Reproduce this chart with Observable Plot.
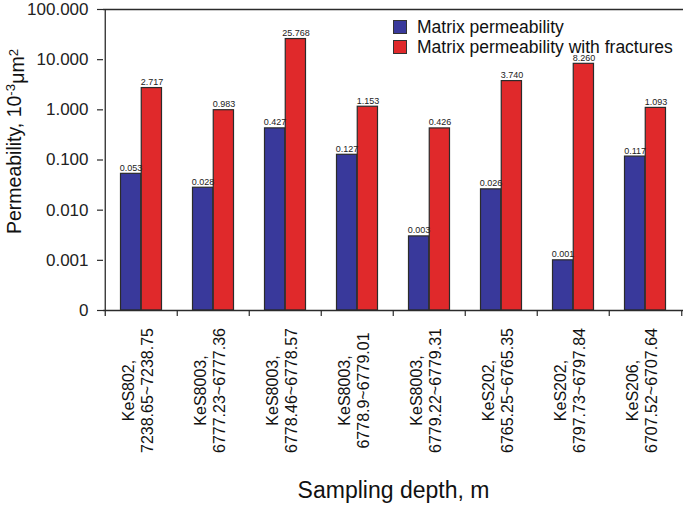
<!DOCTYPE html>
<html><head><meta charset="utf-8">
<script src="https://cdn.jsdelivr.net/npm/d3@7"></script>
<script src="https://cdn.jsdelivr.net/npm/@observablehq/plot@0.6"></script>
<style>
body{margin:0;background:#fff;font-family:"Liberation Sans",Arial,sans-serif;}
#wrap{position:relative;width:685px;height:506px;}
.legend{position:absolute;left:393px;top:17px;font-size:17.5px;color:#111;line-height:20px;}
.legend .row{display:flex;align-items:center;height:20px;}
.sw{width:12px;height:12px;border:1px solid #333;margin-right:10px;flex:none;}
</style></head><body><div id="wrap"></div>
<script>
const categories = [
  "KeS802,\n7238.65~7238.75",
  "KeS8003,\n6777.23~6777.36",
  "KeS8003,\n6778.46~6778.57",
  "KeS8003,\n6778.9~6779.01",
  "KeS8003,\n6779.22~6779.31",
  "KeS202,\n6765.25~6765.35",
  "KeS202,\n6797.73~6797.84",
  "KeS206,\n6707.52~6707.64"
];
const matrix = [0.053, 0.028, 0.427, 0.127, 0.003, 0.026, 0.001, 0.117];
const fractured = [2.717, 0.983, 25.768, 1.153, 0.426, 3.740, 8.260, 1.093];
const yTicks = [0.0001, 0.001, 0.01, 0.1, 1, 10, 100];
const yTickLabels = ["0", "0.001", "0.010", "0.100", "1.000", "10.000", "100.000"];
const seriesNames = ["Matrix permeability", "Matrix permeability with fractures"];
const seriesColors = ["#39399b", "#e0292b"];
const xTitle = "Sampling depth, m";
const yTitle = "Permeability, 10-3μm2";

const rows = categories.map((c, i) => ({cat: c, matrix: matrix[i], fractured: fractured[i]}));

const W = 685, H = 506, mL = 103, mR = 2, mT = 9, mB = 196;
const step = (W - mL - mR) / categories.length;
const half = step / 2;
const plotH = H - mT - mB;
const edge = "#2b2b2b";

const chart = Plot.plot({
  width: W, height: H,
  marginLeft: mL, marginRight: mR, marginTop: mT, marginBottom: mB,
  style: {fontFamily: "'Liberation Sans', Arial, sans-serif", color: "#222", background: "white", overflow: "visible"},
  x: {type: "band", domain: categories, padding: 0, axis: null},
  y: {type: "log", domain: [1e-4, 100]},
  marks: [
    Plot.barY(rows, {x: "cat", y1: 1e-4, y2: "matrix", fill: seriesColors[0], stroke: edge, strokeWidth: 1.2, insetLeft: 15.5, insetRight: half}),
    Plot.barY(rows, {x: "cat", y1: 1e-4, y2: "fractured", fill: seriesColors[1], stroke: edge, strokeWidth: 1.2, insetLeft: half, insetRight: 15.5}),
    Plot.text(rows, {x: "cat", y: "matrix", text: d => d.matrix.toFixed(3), dx: -10.4, dy: -3, lineAnchor: "bottom", fontSize: 9, fill: "#222"}),
    Plot.text(rows, {x: "cat", y: "fractured", text: d => d.fractured.toFixed(3), dx: 10.4, dy: -3, lineAnchor: "bottom", fontSize: 9, fill: "#222"}),
    Plot.ruleY([1e-4], {stroke: edge, strokeWidth: 1.3}),
    Plot.ruleY([100], {stroke: edge, strokeWidth: 1.3}),
    Plot.ruleX([categories[0]], {x: d => d, dx: -half, insetBottom: -6, stroke: edge, strokeWidth: 1.3}),
    Plot.ruleX(categories.slice(1), {x: d => d, dx: -half, insetTop: plotH, insetBottom: -6, stroke: edge, strokeWidth: 1.2}),
    Plot.ruleX([categories[categories.length - 1]], {x: d => d, dx: half, insetTop: plotH, insetBottom: -6, stroke: edge, strokeWidth: 1.2}),
    Plot.axisY({ticks: yTicks, tickFormat: d => yTickLabels[yTicks.indexOf(d)], tickSize: 6, tickPadding: 9, fontSize: 17, label: null, stroke: edge, strokeWidth: 1.2}),
    Plot.text(categories, {x: d => d, text: d => d, frameAnchor: "bottom", dx: -4, dy: 80, rotate: -90, textAnchor: "middle", lineAnchor: "middle", lineHeight: 1.2, fontSize: 16, fill: "#111"}),
    Plot.text([xTitle], {text: d => d, frameAnchor: "bottom", dy: 187, lineAnchor: "bottom", fontSize: 23, fill: "#111"}),
    Plot.text([yTitle], {text: d => d, frameAnchor: "left", dx: -89, dy: -18.5, rotate: -90, textAnchor: "middle", lineAnchor: "middle", fontSize: 19.5, fill: "#111"})
  ]
});

// superscripts in the y title
d3.select(chart).selectAll("text").filter(function() { return this.textContent === yTitle; }).each(function() {
  const t = d3.select(this);
  t.text(null);
  t.append("tspan").text("Permeability, 10");
  t.append("tspan").attr("dy", "-0.45em").attr("font-size", "0.68em").text("-3");
  t.append("tspan").attr("dy", "0.45em").text("μm");
  t.append("tspan").attr("dy", "-0.45em").attr("font-size", "0.68em").text("2");
});

const wrap = document.getElementById("wrap");
wrap.appendChild(chart);

const legend = document.createElement("div");
legend.className = "legend";
seriesNames.forEach((name, i) => {
  const row = document.createElement("div");
  row.className = "row";
  const sw = document.createElement("span");
  sw.className = "sw";
  sw.style.background = seriesColors[i];
  const lab = document.createElement("span");
  lab.textContent = name;
  row.appendChild(sw);
  row.appendChild(lab);
  legend.appendChild(row);
});
wrap.appendChild(legend);
</script>
</body></html>
